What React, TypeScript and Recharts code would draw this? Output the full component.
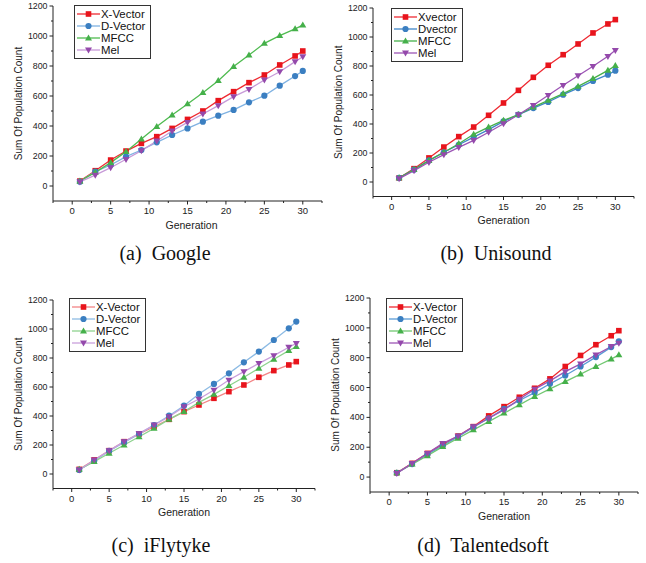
import React from "react";
import { LineChart, Line, XAxis, YAxis, Legend } from "recharts";

// shared axes
const GENERATIONS = [1, 3, 5, 7, 9, 11, 13, 15, 17, 19, 21, 23, 25, 27, 29, 30];
const X_TICKS = [-2.5, 0, 2.5, 5, 7.5, 10, 12.5, 15, 17.5, 20, 22.5, 25, 27.5, 30, 32.5];
const Y_TICKS = [0, 100, 200, 300, 400, 500, 600, 700, 800, 900, 1000, 1100, 1200];

const NAMES_DASH = ["X-Vector", "D-Vector", "MFCC", "Mel"];
const NAMES_PLAIN = ["Xvector", "Dvector", "MFCC", "Mel"];

// (a) Google
const GOOGLE_X = [33, 102, 173, 233, 284, 329, 384, 444, 500, 569, 629, 689, 740, 807, 867, 900];
const GOOGLE_D = [29, 96, 140, 196, 240, 291, 340, 384, 429, 469, 507, 558, 602, 669, 733, 767];
const GOOGLE_MFCC = [33, 91, 156, 229, 313, 396, 473, 547, 622, 702, 796, 873, 951, 1002, 1047, 1073];
const GOOGLE_MEL = [27, 73, 122, 178, 236, 300, 367, 424, 480, 536, 596, 644, 707, 762, 829, 862];

// (b) Unisound
const UNI_X = [28, 92, 166, 241, 313, 379, 460, 545, 632, 722, 805, 878, 952, 1028, 1090, 1120];
const UNI_D = [28, 85, 149, 205, 257, 310, 361, 418, 464, 510, 552, 602, 648, 697, 740, 768];
const UNI_MFCC = [28, 85, 147, 205, 264, 329, 379, 425, 464, 517, 563, 609, 660, 713, 770, 802];
const UNI_MEL = [23, 78, 136, 189, 239, 287, 343, 402, 464, 529, 598, 667, 733, 798, 867, 908];

// (c) iFlytyke
const IFLY_X = [32, 97, 161, 223, 276, 326, 377, 430, 476, 522, 568, 614, 667, 713, 752, 775];
const IFLY_D = [28, 90, 159, 218, 276, 338, 402, 471, 552, 621, 694, 770, 844, 924, 1005, 1051];
const IFLY_MFCC = [32, 85, 143, 200, 257, 315, 377, 430, 494, 549, 609, 667, 729, 791, 851, 878];
const IFLY_MEL = [28, 97, 161, 223, 280, 338, 395, 464, 517, 579, 648, 706, 763, 816, 874, 901];

// (d) Talentedsoft
const TAL_X = [29, 92, 159, 219, 275, 338, 410, 472, 535, 595, 658, 741, 815, 887, 947, 981];
const TAL_D = [29, 87, 152, 210, 271, 334, 394, 457, 513, 566, 625, 681, 741, 804, 871, 909];
const TAL_MFCC = [29, 87, 143, 204, 260, 316, 372, 428, 484, 540, 591, 640, 690, 741, 790, 819];
const TAL_MEL = [25, 92, 159, 226, 275, 338, 394, 450, 522, 589, 645, 707, 759, 819, 875, 898];

const MARKER_COLORS = ["#e8141c", "#3b7fc1", "#45b04a", "#9449ab"];
const SHAPES = ["square", "circle", "triUp", "triDown"];
const SANS = "'Liberation Sans', Arial, sans-serif";
const SERIF = "'Liberation Serif', 'Times New Roman', serif";

const CHART_W = 323;
const CHART_H = 240;
const Y_AXIS_W = 40;
const X_AXIS_H = 30;

const PANELS = [
  {
    tag: "(a)", title: "Google", names: NAMES_DASH,
    series: [GOOGLE_X, GOOGLE_D, GOOGLE_MFCC, GOOGLE_MEL],
    left: 0, top: 0, plot: { l: 53, t: 6, r: 322, b: 201 },
    legend: { x: 74, y: 5 }, caption: { x: 165, y: 260 }, xLabelDx: 4,
    lineColors: ["#ee2a32", "#7fb2e2", "#4fbb50", "#c79ad8"],
  },
  {
    tag: "(b)", title: "Unisound", names: NAMES_PLAIN,
    series: [UNI_X, UNI_D, UNI_MFCC, UNI_MEL],
    left: 323, top: 0, plot: { l: 373, t: 8, r: 634, b: 196.5 },
    legend: { x: 391, y: 8 }, caption: { x: 496, y: 260 }, xLabelDx: 0,
    lineColors: ["#ee2a32", "#3f86c8", "#45b04a", "#9c55b5"],
  },
  {
    tag: "(c)", title: "iFlytyke", names: NAMES_DASH,
    series: [IFLY_X, IFLY_D, IFLY_MFCC, IFLY_MEL],
    left: 0, top: 285, plot: { l: 53, t: 300, r: 315, b: 488.5 },
    legend: { x: 69, y: 298 }, caption: { x: 161, y: 552 }, xLabelDx: 0,
    lineColors: ["#f38486", "#8dbbe4", "#8ed38e", "#c9a0dc"],
  },
  {
    tag: "(d)", title: "Talentedsoft", names: NAMES_DASH,
    series: [TAL_X, TAL_D, TAL_MFCC, TAL_MEL],
    left: 323, top: 285, plot: { l: 370, t: 298, r: 638, b: 492 },
    legend: { x: 386, y: 298 }, caption: { x: 483, y: 552 }, xLabelDx: 0,
    lineColors: ["#ee2a32", "#5a9bd5", "#72c872", "#9c55b5"],
  },
];

function Marker({ cx, cy, shape, color, size = 1 }: any) {
  if (cx == null || cy == null) return null;
  if (shape === "square") {
    const s = 5.6 * size;
    return <rect x={cx - s / 2} y={cy - s / 2} width={s} height={s} fill={color} />;
  }
  if (shape === "circle") {
    return <circle cx={cx} cy={cy} r={3.1 * size} fill={color} />;
  }
  const h = 6 * size;
  const w = 7 * size;
  const pts =
    shape === "triUp"
      ? `${cx},${cy - h * 0.6} ${cx - w / 2},${cy + h * 0.4} ${cx + w / 2},${cy + h * 0.4}`
      : `${cx},${cy + h * 0.6} ${cx - w / 2},${cy - h * 0.4} ${cx + w / 2},${cy - h * 0.4}`;
  return <polygon points={pts} fill={color} />;
}

function XTick(props: any) {
  const { x, y, payload } = props;
  const v = payload.value;
  const major = v % 5 === 0;
  return (
    <g>
      <line x1={x} x2={x} y1={y} y2={y + (major ? 3.5 : 2)} stroke="#222" strokeWidth={1} />
      {major && (
        <text x={x} y={y + 13} textAnchor="middle" fontSize={9.5} fontFamily={SANS} fill="#222">
          {v}
        </text>
      )}
    </g>
  );
}

function YTick(props: any) {
  const { x, y, payload } = props;
  const v = payload.value;
  const major = v % 200 === 0;
  return (
    <g>
      <line x1={x} x2={x - (major ? 3.5 : 2)} y1={y} y2={y} stroke="#222" strokeWidth={1} />
      {major && (
        <text x={x - 5.5} y={y} dy="0.35em" textAnchor="end" fontSize={8.8} fontFamily={SANS} fill="#222">
          {v}
        </text>
      )}
    </g>
  );
}

function LegendBox({ names, lineColors }: any) {
  return (
    <div
      style={{
        border: "1px solid #333",
        background: "#fff",
        padding: "2px 5px 2px 2px",
        fontFamily: SANS,
        fontSize: 11.4,
        color: "#111",
        display: "inline-block",
      }}
    >
      {names.map((n: string, i: number) => (
        <div key={n} style={{ display: "flex", alignItems: "center", height: 12, whiteSpace: "nowrap" }}>
          <svg width={23} height={12} style={{ display: "block" }}>
            <line x1={0} x2={23} y1={6} y2={6} stroke={lineColors[i]} strokeWidth={1.3} />
            <Marker cx={11.5} cy={6} shape={SHAPES[i]} color={MARKER_COLORS[i]} />
          </svg>
          <span style={{ marginLeft: 1, lineHeight: "12px" }}>{n}</span>
        </div>
      ))}
    </div>
  );
}

function Panel({ p }: any) {
  const data = GENERATIONS.map((g, i) => ({
    gen: g,
    s0: p.series[0][i],
    s1: p.series[1][i],
    s2: p.series[2][i],
    s3: p.series[3][i],
  }));
  const margin = {
    left: p.plot.l - p.left - Y_AXIS_W,
    top: p.plot.t - p.top,
    right: p.left + CHART_W - p.plot.r,
    bottom: p.top + CHART_H - p.plot.b - X_AXIS_H,
  };
  return (
    <div style={{ position: "absolute", left: p.left, top: p.top }}>
      <LineChart width={CHART_W} height={CHART_H} data={data} margin={margin}>
        <XAxis
          dataKey="gen"
          type="number"
          domain={[-2.5, 32.5]}
          ticks={X_TICKS}
          interval={0}
          height={X_AXIS_H}
          tickSize={0}
          tickMargin={0}
          tickLine={false}
          axisLine={{ stroke: "#222", strokeWidth: 1 }}
          tick={<XTick />}
          allowDataOverflow
        />
        <YAxis
          type="number"
          domain={[-100, 1200]}
          ticks={Y_TICKS}
          interval={0}
          width={Y_AXIS_W}
          tickSize={0}
          tickMargin={0}
          tickLine={false}
          axisLine={{ stroke: "#222", strokeWidth: 1 }}
          tick={<YTick />}
          allowDataOverflow
        />
        <Legend
          layout="vertical"
          align="center"
          verticalAlign="middle"
          wrapperStyle={{ left: p.legend.x - p.left, top: p.legend.y - p.top, width: "auto", height: "auto" }}
          content={() => <LegendBox names={p.names} lineColors={p.lineColors} />}
        />
        {[0, 1, 2, 3].map((i) => (
          <Line
            key={i}
            type="linear"
            dataKey={`s${i}`}
            name={p.names[i]}
            stroke={p.lineColors[i]}
            strokeWidth={1.3}
            isAnimationActive={false}
            dot={(dp: any) => (
              <Marker key={`d${i}-${dp.index}`} cx={dp.cx} cy={dp.cy} shape={SHAPES[i]} color={MARKER_COLORS[i]} />
            )}
            activeDot={false}
          />
        ))}
      </LineChart>
    </div>
  );
}

export default function App() {
  return (
    <div style={{ position: "absolute", left: 0, top: 0, width: 646, height: 563, background: "#fff", overflow: "hidden" }}>
      {PANELS.map((p) => (
        <Panel key={p.tag} p={p} />
      ))}
      <svg width={646} height={563} style={{ position: "absolute", left: 0, top: 0, pointerEvents: "none" }}>
        {PANELS.map((p) => {
          const cy = (p.plot.t + p.plot.b) / 2;
          const yx = p.plot.l - 35;
          return (
            <g key={p.tag}>
              <text
                x={yx}
                y={cy}
                dy="0.35em"
                textAnchor="middle"
                fontSize={10}
                fontFamily={SANS}
                fill="#222"
                transform={`rotate(-90 ${yx} ${cy})`}
              >
                Sum Of Population Count
              </text>
              <text
                x={(p.plot.l + p.plot.r) / 2 + p.xLabelDx}
                y={p.plot.b + 24}
                dy="0.35em"
                textAnchor="middle"
                fontSize={10.5}
                fontFamily={SANS}
                fill="#222"
              >
                Generation
              </text>
              <text
                x={p.caption.x}
                y={p.caption.y}
                textAnchor="middle"
                fontSize={20}
                fontFamily={SERIF}
                fill="#111"
                style={{ whiteSpace: "pre" }}
              >
                {`${p.tag}  ${p.title}`}
              </text>
            </g>
          );
        })}
      </svg>
    </div>
  );
}
